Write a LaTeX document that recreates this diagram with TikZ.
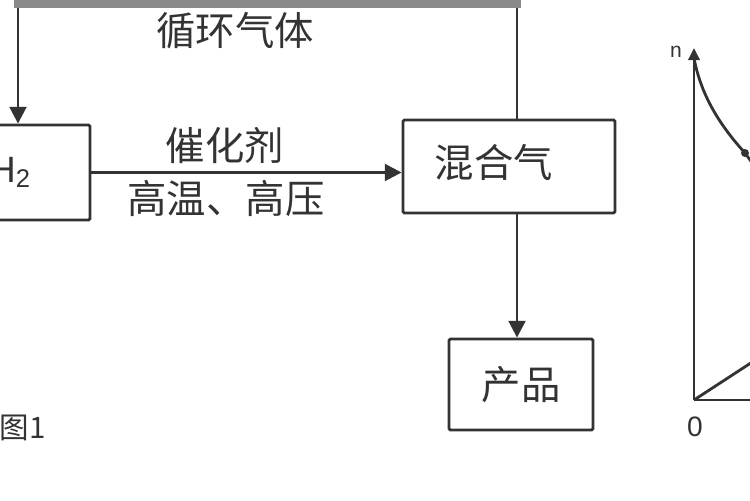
\documentclass[tikz,border=0pt]{standalone}
\usepackage{fontspec}
\setmainfont{Liberation Sans}
\newfontfamily\cjk{Noto Sans CJK SC}
\usetikzlibrary{arrows.meta}
\definecolor{ink}{HTML}{333333}
\definecolor{band}{HTML}{8A8A8A}
\begin{document}
\begin{tikzpicture}[x=0.025cm,y=-0.025cm,
  box/.style={draw=ink,line width=2pt,rounded corners=1pt,inner sep=0pt},
  conn/.style={draw=ink,line width=2pt},
  arr/.style={conn,-{Triangle[length=0.42cm,width=0.42cm]}},
  cn/.style={font=\cjk\fontsize{28}{30}\selectfont,text=ink,inner sep=0pt},
  lat/.style={font=\fontsize{26}{28}\selectfont,text=ink,inner sep=0pt},
  small/.style={font=\fontsize{20}{22}\selectfont,text=ink,inner sep=0pt}]
\useasboundingbox (0,0) rectangle (750,500);
\fill[white] (0,0) rectangle (750,500);

% boxes
\node[box,minimum width=2.75cm,minimum height=2.375cm] (h2) at (35,172.5) {};
\node[lat,anchor=base east] (h2t) at (31,182) {H\textsubscript{2}};
\node[box,minimum width=5.3cm,minimum height=2.325cm] (mix) at (509,166.5) {};
\node[cn] (mixt) at (494,163) {混合气};
\node[box,minimum width=3.6cm,minimum height=2.275cm,cn] (prod) at (521,384.5) {产品};

% recycle loop
\coordinate (tl) at (18,4);
\coordinate (tr) at (517,4);
\draw[conn] (tr |- mix.north) -- (tr);
\draw[arr] (tl) -- (tl |- h2.north);
\draw[band,line width=5.7pt] ([xshift=-0.1cm]tl) -- ([xshift=0.1cm]tr);
\node[cn] (rec) at (235,31) {循环气体};

% main flow
\draw[arr] (h2.east) -- (h2.east -| mix.west);
\node[cn] (cat) at (225,146) {催化剂};
\node[cn] (cond) at (226,198) {高温、高压};
\draw[arr] (mix.south -| tr) -- (prod.north -| tr);

% figure label
\node[cn,font=\cjk\fontsize{21}{23}\selectfont,anchor=east] (fig) at (46,428) {图1};

% graph
\coordinate (o) at (694,400);
\coordinate (ytop) at (694,48);
\coordinate (xend) at (760,400);
\coordinate (dend) at (760,357);
\draw[conn,-{Triangle[length=0.3cm,width=0.28cm]}] (o) -- (ytop);
\draw[conn] (o) -- (xend);
\draw[conn] (o) -- (dend);
\coordinate (c0) at (694,58);
\coordinate (c1) at (745,153);
\coordinate (c2) at (753,164);
\draw[conn] (c0) .. controls (700,90) and (715,120) .. (c1) -- (c2);
\fill[ink] (c1) circle (0.1cm);
\node[small,font=\fontsize{15}{17}\selectfont] (nl) at (676,52) {n};
\node[small] (zero) at (695,427) {0};
\end{tikzpicture}
\end{document}
